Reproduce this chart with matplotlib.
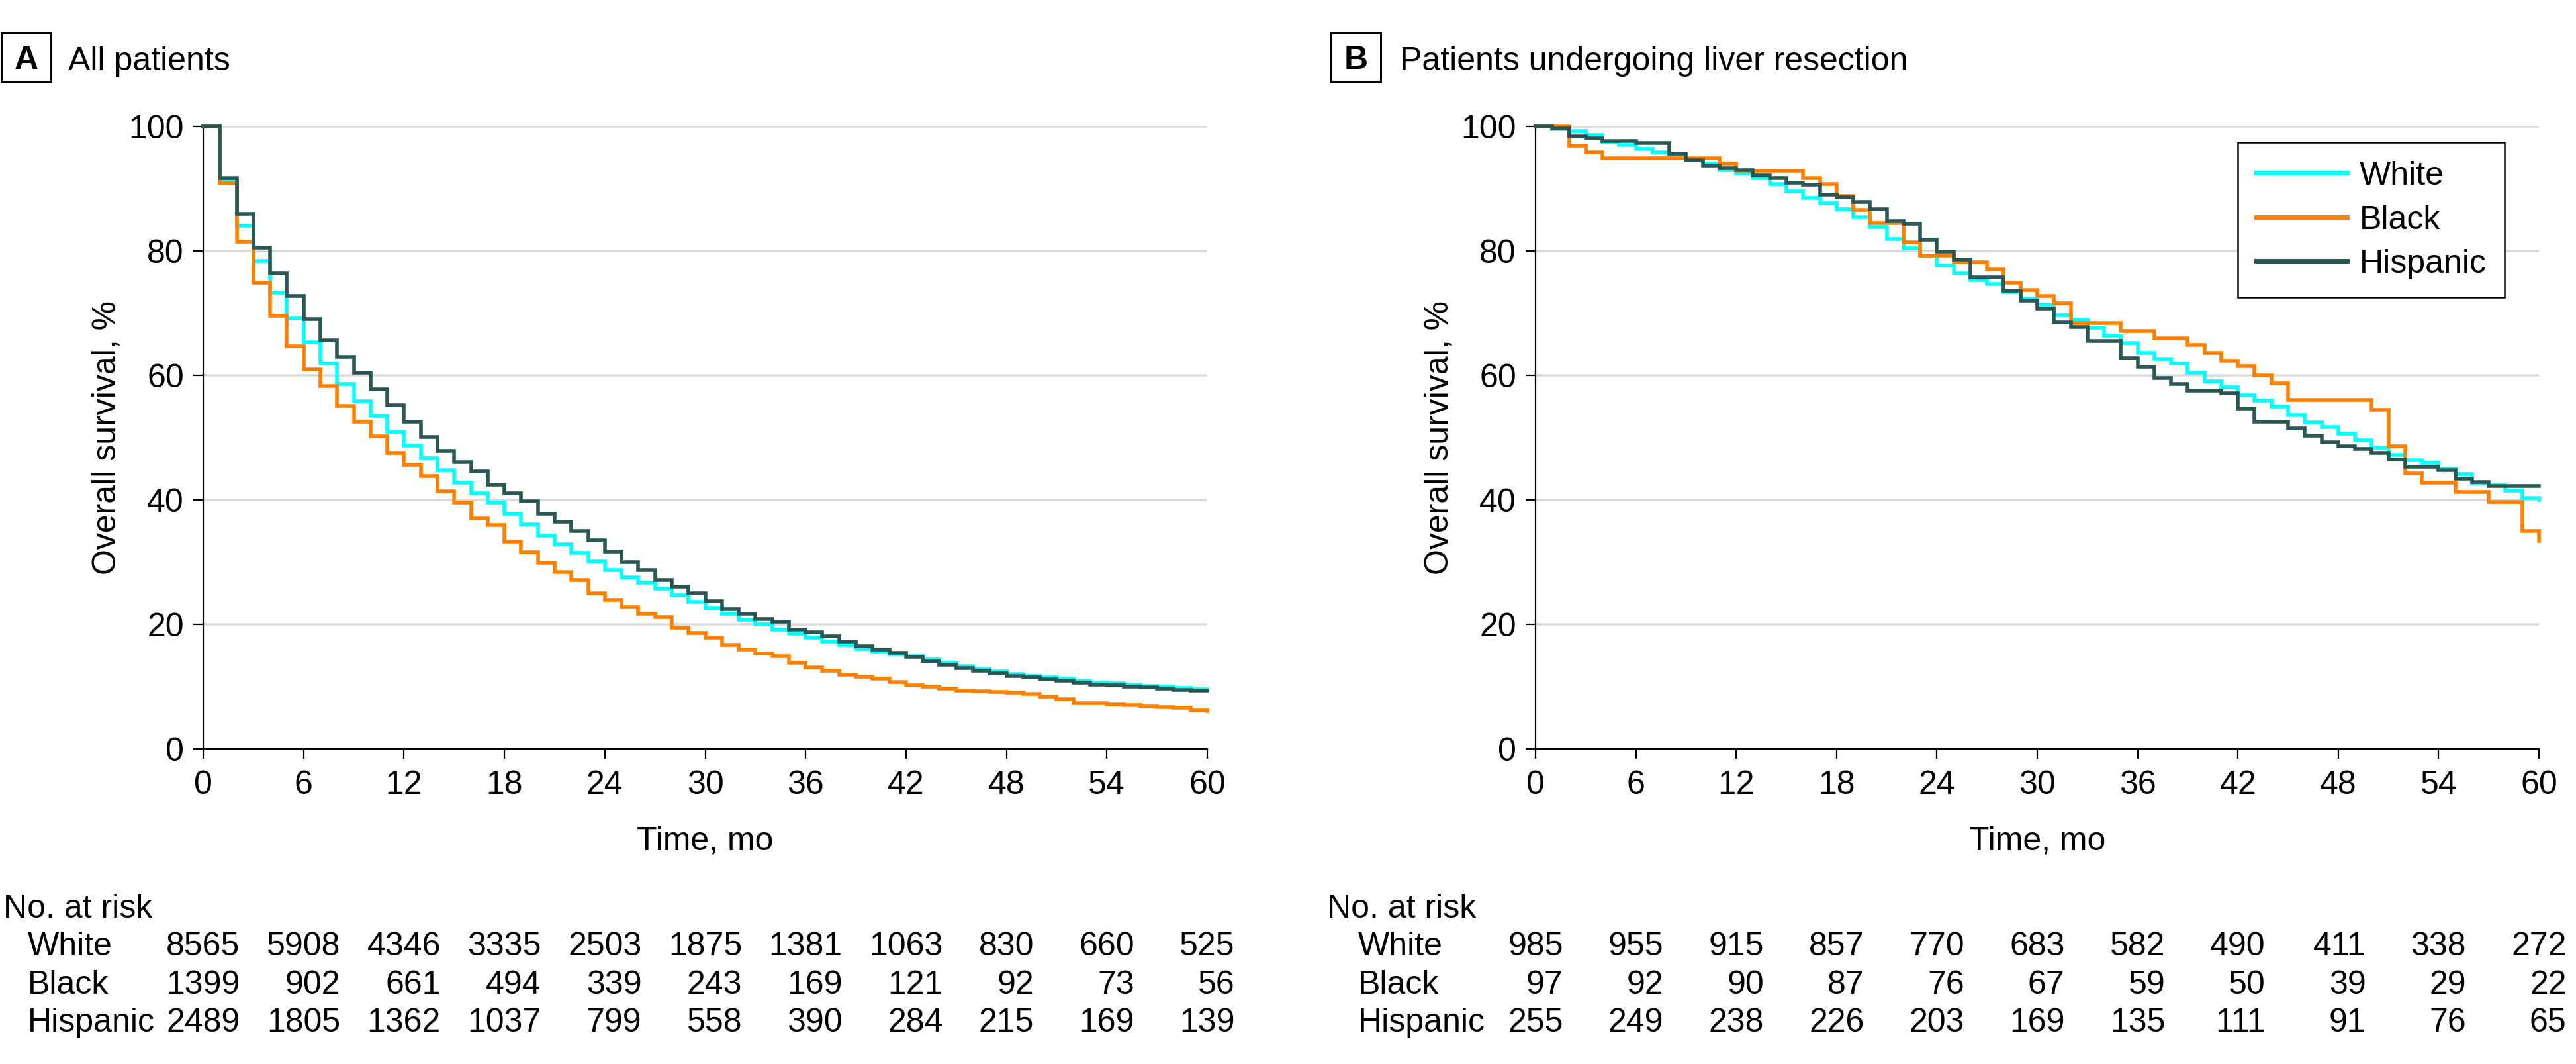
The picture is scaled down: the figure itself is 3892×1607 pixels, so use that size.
import matplotlib
matplotlib.use('Agg')
import matplotlib.pyplot as plt
import matplotlib.transforms as mtransforms
from matplotlib.patches import Rectangle
import numpy as np

plt.rcParams['font.family'] = ['Liberation Sans', 'DejaVu Sans']
plt.rcParams['font.size'] = 18

# monthly survival estimates, value held from month t to t+1 (last = value at 60)
months = np.arange(0, 61)
groups = ['White', 'Black', 'Hispanic']
colors = ['#00ffff', '#ff8000', '#2a5753']

a_white = [100, 91.2, 84.0, 78.3, 73.2, 69.1, 65.3, 61.9, 58.6, 55.8,
           53.5, 50.9, 48.7, 46.6, 44.7, 42.7, 41.0, 39.5, 37.7, 36.0,
           34.2, 32.8, 31.4, 30.1, 28.7, 27.5, 26.6, 25.7, 24.6, 23.6,
           22.5, 21.6, 20.7, 19.9, 19.1, 18.5, 17.8, 17.2, 16.6, 16.0,
           15.5, 15.2, 14.8, 14.3, 13.8, 13.2, 12.8, 12.4, 12.0, 11.7,
           11.4, 11.2, 10.9, 10.6, 10.5, 10.3, 10.1, 9.9, 9.7, 9.5, 9.4]
a_black = [100, 90.8, 81.4, 74.8, 69.5, 64.6, 60.9, 58.2, 55.1, 52.5,
           50.2, 47.5, 45.6, 43.8, 41.3, 39.5, 37.0, 35.9, 33.2, 31.5,
           29.8, 28.4, 27.1, 24.9, 23.9, 22.7, 21.7, 21.1, 19.4, 18.6,
           17.8, 16.7, 15.9, 15.3, 14.8, 13.8, 13.0, 12.5, 11.9, 11.5,
           11.2, 10.7, 10.2, 10.0, 9.6, 9.3, 9.2, 9.1, 9.0, 8.8,
           8.4, 7.9, 7.3, 7.3, 7.1, 7.0, 6.8, 6.6, 6.5, 6.1, 6.0]
a_hisp = [100, 91.7, 85.9, 80.5, 76.3, 72.7, 69.0, 65.6, 62.9, 60.4,
          57.7, 55.2, 52.5, 50.1, 47.8, 46.0, 44.5, 42.4, 41.0, 39.7,
          37.7, 36.4, 34.9, 33.5, 31.6, 29.9, 28.7, 27.1, 26.0, 25.0,
          23.7, 22.4, 21.7, 20.8, 20.4, 19.1, 18.7, 18.0, 17.2, 16.4,
          15.9, 15.4, 14.7, 14.0, 13.5, 12.9, 12.5, 12.1, 11.7, 11.4,
          11.1, 10.9, 10.6, 10.3, 10.2, 10.0, 9.8, 9.6, 9.4, 9.3, 9.3]

b_white = [100, 99.5, 99.2, 98.6, 97.4, 97.0, 96.3, 95.8, 95.5, 94.6,
           94.0, 92.9, 92.4, 91.7, 90.7, 89.5, 88.5, 87.6, 86.7, 85.4,
           83.8, 81.9, 80.4, 79.2, 77.6, 76.3, 75.3, 74.6, 73.4, 72.3,
           71.3, 69.6, 68.9, 67.6, 66.3, 65.2, 63.6, 62.6, 61.9, 60.4,
           59.0, 58.0, 56.8, 55.9, 54.9, 53.6, 52.4, 51.6, 50.6, 49.5,
           48.4, 47.2, 46.3, 45.9, 44.9, 44.1, 42.6, 42.3, 41.4, 40.3, 40.0]
b_black = [100, 100, 96.9, 95.8, 94.8, 94.8, 94.8, 94.8, 94.8, 94.8,
           94.8, 94.0, 92.8, 92.8, 92.8, 92.8, 91.6, 90.7, 88.8, 86.5,
           84.4, 84.4, 81.3, 79.2, 79.2, 78.1, 78.1, 77.0, 74.8, 73.7,
           72.7, 71.5, 68.3, 68.3, 68.3, 67.1, 67.1, 65.9, 65.9, 64.8,
           63.6, 62.3, 61.4, 59.9, 58.7, 56.0, 56.0, 56.0, 56.0, 56.0,
           54.4, 48.6, 44.2, 42.7, 42.7, 41.2, 41.2, 39.6, 39.6, 34.9, 33.4]
b_hisp = [100, 99.6, 98.4, 98.0, 97.6, 97.6, 97.3, 97.3, 95.6, 94.5,
          93.7, 93.2, 92.9, 92.1, 91.7, 90.9, 90.6, 89.0, 88.6, 87.8,
          86.7, 84.7, 84.3, 81.8, 79.8, 78.6, 75.7, 75.7, 73.6, 72.0,
          70.7, 68.5, 67.7, 65.5, 65.5, 62.7, 61.3, 59.5, 58.6, 57.5,
          57.5, 57.1, 54.6, 52.5, 52.5, 51.4, 50.3, 49.2, 48.6, 48.1,
          47.5, 46.4, 45.3, 45.3, 44.7, 43.3, 42.8, 42.2, 42.2, 42.2, 42.2]

risk_months = [0, 6, 12, 18, 24, 30, 36, 42, 48, 54, 60]
a_risk_white = [8565, 5908, 4346, 3335, 2503, 1875, 1381, 1063, 830, 660, 525]
a_risk_black = [1399, 902, 661, 494, 339, 243, 169, 121, 92, 73, 56]
a_risk_hisp = [2489, 1805, 1362, 1037, 799, 558, 390, 284, 215, 169, 139]
b_risk_white = [985, 955, 915, 857, 770, 683, 582, 490, 411, 338, 272]
b_risk_black = [97, 92, 90, 87, 76, 67, 59, 50, 39, 29, 22]
b_risk_hisp = [255, 249, 238, 226, 203, 169, 135, 111, 91, 76, 65]

W, H = 3892, 1608
fig = plt.figure(figsize=(W / 200, H / 200), dpi=200)


def fy(py):
    return 1 - py / H


ax_a = fig.add_axes([307 / W, fy(1131.5), 1517 / W, 940 / H])
ax_b = fig.add_axes([2320 / W, fy(1131.5), 1516 / W, 940 / H])

digit_w = 0.556 * 18  # pt


def panel(ax, curves, risk, letter, title, box_x, title_x, atrisk_x, row_x):
    for name, vals, col in zip(groups, curves, colors):
        ax.step(months, vals, where='post', color=col, lw=2.0, label=name,
                clip_on=False, zorder=3, solid_joinstyle='miter')
    for y in range(20, 101, 20):
        ax.axhline(y, color='#d9d9d9', lw=1.3, zorder=1)
    ax.set_xlim(0, 60)
    ax.set_ylim(0, 100)
    ax.set_xticks(risk_months)
    ax.set_yticks(range(0, 101, 20))
    for s in ['top', 'right']:
        ax.spines[s].set_visible(False)
    for s in ['left', 'bottom']:
        ax.spines[s].set_linewidth(0.8)
    ax.tick_params(axis='both', length=5.5, width=0.8, direction='out')
    ax.tick_params(axis='x', pad=6)
    ax.tick_params(axis='y', pad=5)
    ax.set_xlabel('Time, mo')
    ax.set_ylabel('Overall survival, %')
    ax.xaxis.set_label_coords(0.5, -0.123)
    ax.yaxis.set_label_coords(-0.081, 0.5)

    # panel letter box and title
    fig.add_artist(Rectangle((box_x / W, fy(124)), 75 / W, 74 / H,
                             transform=fig.transFigure, fill=False,
                             ec='black', lw=1.1))
    fig.text((box_x + 37.5) / W, fy(104), letter, ha='center',
             va='baseline', fontweight='bold')
    fig.text(title_x / W, fy(106), title, ha='left', va='baseline')

    # number at risk table
    fig.text(atrisk_x / W, fy(1386), 'No. at risk', ha='left', va='baseline')
    rows_y = [1443, 1501, 1558]
    trans = mtransforms.blended_transform_factory(ax.transData, fig.transFigure)
    for r, name in enumerate(groups):
        fig.text(row_x / W, fy(rows_y[r]), name, ha='left', va='baseline')
        for j, m in enumerate(risk_months):
            ndig = max(len(str(rr[j])) for rr in risk)
            off = mtransforms.ScaledTranslation(ndig * digit_w / 2 / 72, 0,
                                                fig.dpi_scale_trans)
            ax.text(m, fy(rows_y[r]), str(risk[r][j]), transform=trans + off,
                    ha='right', va='baseline', clip_on=False)


panel(ax_a, [a_white, a_black, a_hisp], [a_risk_white, a_risk_black, a_risk_hisp],
      'A', 'All patients', 2, 103, 5, 42)
panel(ax_b, [b_white, b_black, b_hisp], [b_risk_white, b_risk_black, b_risk_hisp],
      'B', 'Patients undergoing liver resection', 2011, 2115, 2005, 2052)

leg = ax_b.legend(loc='upper right', bbox_to_anchor=(3784 / W, fy(216)),
                  bbox_transform=fig.transFigure, borderaxespad=0,
                  fancybox=False, edgecolor='black', framealpha=1,
                  handlelength=2.75, handletextpad=0.37, labelspacing=0.41,
                  borderpad=0.55)
leg.get_frame().set_linewidth(0.9)
for ln in leg.get_lines():
    ln.set_linewidth(2.5)
leg.set_zorder(5)

fig.savefig('out.png', dpi=200)
